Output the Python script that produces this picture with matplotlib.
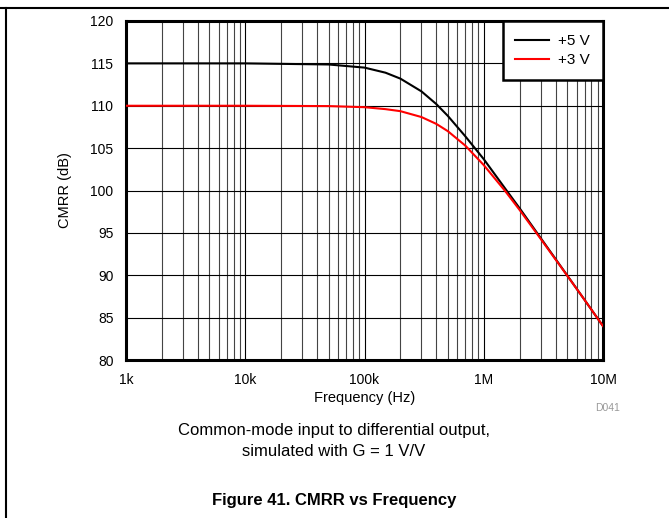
import matplotlib
matplotlib.use('Agg')
import matplotlib.pyplot as plt
from matplotlib.lines import Line2D
from matplotlib.ticker import LogLocator, NullFormatter, FixedLocator

plt.rcParams['font.family'] = ['Liberation Sans', 'DejaVu Sans']

# values
freq_hz = [1e3, 1e4, 5e4, 1e5, 1.5e5, 2e5, 3e5, 4e5, 5e5, 7e5, 1e6, 1.5e6, 2e6, 3e6, 5e6, 7e6, 1e7]
cmrr_5v = [115.0, 115.0, 114.87, 114.5, 113.9, 113.2, 111.7, 110.2, 108.8, 106.4, 103.7, 100.3, 97.9, 94.4, 90.0, 87.1, 84.0]
cmrr_3v = [110.0, 110.0, 109.96, 109.83, 109.6, 109.36, 108.67, 107.86, 107.0, 105.3, 103.0, 100.0, 97.7, 94.3, 89.97, 87.1, 84.0]
labels = ['+5 V', '+3 V']
colors = ['black', '#ff0000']
x_ticks = [1e3, 1e4, 1e5, 1e6, 1e7]
x_ticklabels = ['1k', '10k', '100k', '1M', '10M']
y_ticks = [80, 85, 90, 95, 100, 105, 110, 115, 120]

fig = plt.figure(figsize=(6.69, 5.18), dpi=100)
ax = fig.add_axes([126/669, 1 - 360/518, 477/669, 339/518])

ax.plot(freq_hz, cmrr_5v, color=colors[0], lw=1.5, label=labels[0], zorder=3)
ax.plot(freq_hz, cmrr_3v, color=colors[1], lw=1.5, label=labels[1], zorder=3)

ax.set_xscale('log')
ax.set_xlim(1e3, 1e7)
ax.set_ylim(80, 120)
ax.xaxis.set_major_locator(FixedLocator(x_ticks))
ax.set_xticklabels(x_ticklabels)
ax.xaxis.set_minor_locator(LogLocator(base=10, subs=range(2, 10)))
ax.xaxis.set_minor_formatter(NullFormatter())
ax.set_yticks(y_ticks)

ax.grid(which='major', color='black', lw=0.8)
ax.grid(which='minor', axis='x', color='#444444', lw=0.8)
ax.tick_params(which='both', length=0, labelsize=10)
ax.tick_params(axis='x', pad=9)
ax.tick_params(axis='y', pad=9)
for s in ax.spines.values():
    s.set_linewidth(2.2)

ax.set_xlabel('Frequency (Hz)', fontsize=10.5, labelpad=3)
ax.set_ylabel('CMRR (dB)', fontsize=10.5, labelpad=13)

leg = ax.legend(loc='upper right', fontsize=11, fancybox=False, framealpha=1,
                edgecolor='black', borderaxespad=0, borderpad=0.85,
                handlelength=2.2, handletextpad=0.6, labelspacing=0.35)
leg.get_frame().set_linewidth(1.8)

fig.text(620/669, 1 - 408/518, 'D041', fontsize=7.5, color='#999999', ha='right', va='center')
fig.text(334/669, 1 - 431/518, 'Common-mode input to differential output,',
         fontsize=12, ha='center', va='center')
fig.text(334/669, 1 - 452/518, 'simulated with G = 1 V/V',
         fontsize=12, ha='center', va='center')
fig.text(334/669, 1 - 500/518, 'Figure 41. CMRR vs Frequency',
         fontsize=12, fontweight='bold', ha='center', va='center')

# page frame
fig.add_artist(Line2D([0, 1], [1 - 8/518, 1 - 8/518], color='black', lw=1.5))
fig.add_artist(Line2D([6/669, 6/669], [0, 1 - 8/518], color='black', lw=1.5))

fig.savefig('out.png', dpi=100)
